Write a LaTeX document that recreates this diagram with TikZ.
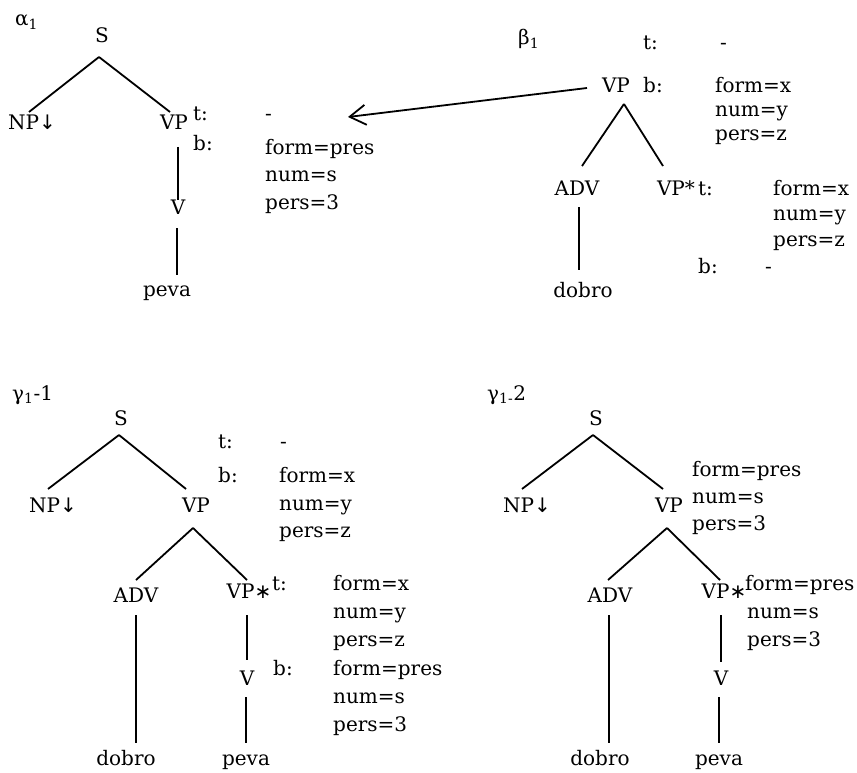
\documentclass[tikz,border=0pt]{standalone}
\usepackage{fontspec}
\setmainfont{DejaVu Serif}
\newfontfamily\symfont{DejaVu Sans}
\usetikzlibrary{calc,arrows.meta}
\newcommand{\substmark}{{\symfont ↓}}
\begin{document}
\begin{tikzpicture}[x=1pt,y=-1pt,
  every node/.style={font=\fontsize{20}{24}\selectfont, inner sep=0pt},
  cat/.style={anchor=base},
  feat/.style={anchor=base west},
  branch/.style={line width=1.8pt},
  adjoin/.style={line width=1.8pt, -{Straight Barb[length=16pt,width=20pt]}},
]
\useasboundingbox (0,0) rectangle (857,773);

% ---------- alpha_1 : initial tree ----------
\node[feat] (lab0) at (15,26) {α\textsubscript{1}};
\node[cat] (S0)   at (102,43)  {S};
\node[cat] (NP0)  at (32,130)  {NP\substmark};
\node[cat] (VP0)  at (174,130) {VP};
\node[cat] (V0)   at (178,214) {V};
\node[cat] (pv0)  at (167,296) {peva};
\node[feat] (t0)  at (193,121) {t:};
\node[feat] (b0)  at (193,150) {b:};
\node[feat] (t0v) at (265,121) {-};
\node[feat] (b0a) at (265,155) {form=pres};
\node[feat] (b0b) at (265,182) {num=s};
\node[feat] (b0c) at (265,209) {pers=3};
\draw[branch] ($(S0.base)+(-3,14)$) -- ($(NP0.base)+(-3,-18)$);
\draw[branch] ($(S0.base)+(-3,14)$) -- ($(VP0.base)+(-4,-18)$);
\draw[branch] ($(VP0.base)+(4,17)$) -- ($(V0.base)+(0,-14)$);
\draw[branch] ($(V0.base)+(-1,14)$) -- ($(pv0.base)+(10,-21)$);

% ---------- beta_1 : auxiliary tree ----------
\node[feat] (lab1) at (518,45) {β\textsubscript{1}};
\node[cat] (VPb)  at (616,93)  {VP};
\node[cat] (ADVb) at (577,195) {ADV};
\node[cat] (VPsb) at (676,195) {VP*};
\node[cat] (dob)  at (583,297) {dobro};
\node[feat] (tb)  at (643,50)  {t:};
\node[feat] (tbv) at (720,50)  {-};
\node[feat] (bb)  at (643,93)  {b:};
\node[feat] (bba) at (715,93)  {form=x};
\node[feat] (bbb) at (715,117) {num=y};
\node[feat] (bbc) at (715,141) {pers=z};
\node[feat] (tf)  at (698,195) {t:};
\node[feat] (tfa) at (773,195) {form=x};
\node[feat] (tfb) at (773,220) {num=y};
\node[feat] (tfc) at (773,246) {pers=z};
\node[feat] (bf)  at (698,273) {b:};
\node[feat] (bfv) at (765,273) {-};
\draw[branch] ($(VPb.base)+(8,11)$) -- ($(ADVb.base)+(5,-29)$);
\draw[branch] ($(VPb.base)+(8,11)$) -- ($(VPsb.base)+(-13,-29)$);
\draw[branch] ($(ADVb.base)+(2,12)$) -- ($(dob.base)+(-4,-27)$);

% adjunction of beta_1 at the VP node of alpha_1
\coordinate (adjsite) at (348,117);
\draw[adjoin] ($(VPb.base)+(-29,-5)$) -- (adjsite);

% ---------- gamma_1-1 ----------
\node[feat] (lab2) at (12,400) {γ\textsubscript{1}-1};
\node[cat] (S1)   at (121,425) {S};
\node[cat] (NP1)  at (53,512)  {NP\substmark};
\node[cat] (VP1)  at (196,512) {VP};
\node[cat] (ADV1) at (136,602) {ADV};
\node[cat] (VPs1) at (249,598) {VP{\symfont∗}};
\node[cat] (V1)   at (247,685) {V};
\node[cat] (do1)  at (126,765) {dobro};
\node[cat] (pv1)  at (246,765) {peva};
\node[feat] (t1)  at (218,448) {t:};
\node[feat] (t1v) at (280,448) {-};
\node[feat] (b1)  at (218,482) {b:};
\node[feat] (b1a) at (279,482) {form=x};
\node[feat] (b1b) at (279,510) {num=y};
\node[feat] (b1c) at (279,537) {pers=z};
\node[feat] (t2)  at (272,590) {t:};
\node[feat] (t2a) at (333,590) {form=x};
\node[feat] (t2b) at (333,618) {num=y};
\node[feat] (t2c) at (333,646) {pers=z};
\node[feat] (b2)  at (273,675) {b:};
\node[feat] (b2a) at (333,675) {form=pres};
\node[feat] (b2b) at (333,703) {num=s};
\node[feat] (b2c) at (333,731) {pers=3};
\draw[branch] ($(S1.base)+(-2,10)$) -- ($(NP1.base)+(-5,-23)$);
\draw[branch] ($(S1.base)+(-2,10)$) -- ($(VP1.base)+(-10,-23)$);
\draw[branch] ($(VP1.base)+(-3,16)$) -- ($(ADV1.base)+(0,-22)$);
\draw[branch] ($(VP1.base)+(-3,16)$) -- ($(VPs1.base)+(-2,-18)$);
\draw[branch] ($(ADV1.base)+(0,13)$) -- ($(do1.base)+(10,-22)$);
\draw[branch] ($(VPs1.base)+(-2,17)$) -- ($(V1.base)+(0,-25)$);
\draw[branch] ($(V1.base)+(-1,12)$) -- ($(pv1.base)+(0,-22)$);

% ---------- gamma_1-2 ----------
\node[feat] (lab3) at (487,400) {γ\textsubscript{1-}2};
\node[cat] (S2)   at (596,425) {S};
\node[cat] (NP2)  at (527,512) {NP\substmark};
\node[cat] (VP2)  at (669,512) {VP};
\node[cat] (ADV2) at (610,602) {ADV};
\node[cat] (VPs2) at (724,598) {VP{\symfont∗}};
\node[cat] (V2)   at (721,685) {V};
\node[cat] (do2)  at (600,765) {dobro};
\node[cat] (pv2)  at (719,765) {peva};
\node[feat] (f3a) at (692,476) {form=pres};
\node[feat] (f3b) at (692,503) {num=s};
\node[feat] (f3c) at (692,530) {pers=3};
\node[feat] (f4a) at (745,590) {form=pres};
\node[feat] (f4b) at (747,618) {num=s};
\node[feat] (f4c) at (747,646) {pers=3};
\draw[branch] ($(S2.base)+(-3,10)$) -- ($(NP2.base)+(-5,-23)$);
\draw[branch] ($(S2.base)+(-3,10)$) -- ($(VP2.base)+(-6,-23)$);
\draw[branch] ($(VP2.base)+(-2,16)$) -- ($(ADV2.base)+(-2,-22)$);
\draw[branch] ($(VP2.base)+(-2,16)$) -- ($(VPs2.base)+(-4,-18)$);
\draw[branch] ($(ADV2.base)+(-1,13)$) -- ($(do2.base)+(9,-22)$);
\draw[branch] ($(VPs2.base)+(-3,17)$) -- ($(V2.base)+(0,-23)$);
\draw[branch] ($(V2.base)+(-2,12)$) -- ($(pv2.base)+(0,-22)$);
\end{tikzpicture}
\end{document}
